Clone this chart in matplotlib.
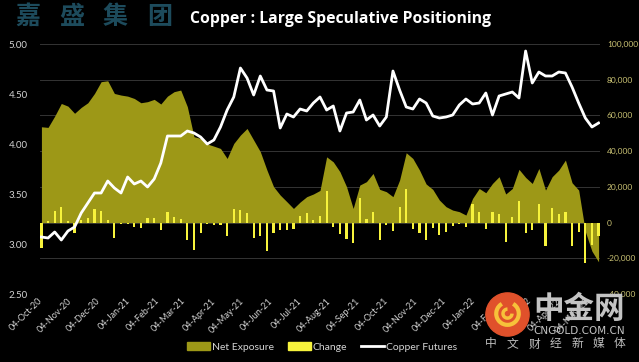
import matplotlib
matplotlib.use('Agg')
import matplotlib.pyplot as plt
import matplotlib.dates as mdates
from matplotlib.ticker import MultipleLocator, FuncFormatter
from matplotlib.patches import Patch, Circle, Arc
from matplotlib.lines import Line2D
import pandas as pd

# weekly positioning data
dates = pd.date_range('2020-10-04', periods=85, freq='7D')

copper = [3.07, 3.06, 3.12, 3.04, 3.13, 3.17, 3.31, 3.41, 3.51, 3.51, 3.63,
          3.56, 3.51, 3.67, 3.60, 3.63, 3.57, 3.65, 3.81, 4.08, 4.08,
          4.08, 4.13, 4.11, 4.07, 4.00, 4.04, 4.17, 4.34, 4.47, 4.76, 4.66,
          4.49, 4.68, 4.54, 4.53, 4.16, 4.30, 4.27, 4.35, 4.33, 4.41, 4.47,
          4.34, 4.38, 4.13, 4.31, 4.32, 4.44, 4.24, 4.29, 4.18, 4.27, 4.73,
          4.54, 4.37, 4.35, 4.45, 4.41, 4.28, 4.26, 4.27, 4.29, 4.39,
          4.45, 4.40, 4.41, 4.51, 4.29, 4.48, 4.50, 4.52, 4.46, 4.93, 4.61,
          4.72, 4.68, 4.68, 4.72, 4.71, 4.57, 4.41, 4.26, 4.17, 4.21]

net_exposure = [53650, 53300, 59600, 66700, 65200, 61200, 64500, 67100, 72300,
                78900, 79400, 72300, 71400, 70800, 69500, 67100, 67700, 69000,
                66400, 70800, 73300,
                74200, 64900, 48100, 47100, 44000, 42800, 41500, 35900, 44300,
                49000, 52700, 46200, 39700, 29400, 20100, 15400, 11700, 7900,
                11500, 14500, 16000, 18000,
                36800, 34000, 28500, 20100, 7900, 21000, 22900, 27500, 18600,
                17300, 14500, 23800, 39100, 35900, 29400, 21600, 18600, 12600,
                8900, 7000, 6100,
                4200, 13500, 19100, 16700, 21900, 25700, 16000, 19100, 29800,
                25300, 21900, 30300, 18200, 25700, 29400, 35000, 22300, 18200,
                -5000, -16000, -22000]

change = [-14000, 1000, 6400, 8900, 1000, -5700, 1400, 2700, 7400, 6400, 1400,
          -8500, -1000, -1000, -2300, -2900, 2300, 2700, -4200, 5700, 2900,
          2000, -9800, -15400, -5700, -1000, -1400, -1400, -7400, 7400, 7000,
          5100, -8500, -7600, -15800, -5700, -4200, -4200, -3600, 3800, 5100,
          1400, 3800,
          17600, -2300, -6400, -9400, -11700, 13900, 2000, 6100, -9800, -1400,
          -4800, 8900, 18800, -3600, -5700, -9800, -2900, -7000, -5100, -1800,
          -700,
          -2700, 10400, 6100, -3800, 5700, 4600, -11100, 2900, 12200, -5700,
          -4200, 10400, -13200, 8300, 4600, 6100, -13200, -5100, -22900,
          -12600, -7600]

olive = '#9d9817'
yellow = '#f7f33c'
label_grey = '#d4d4d4'

fig = plt.figure(figsize=(6.39, 3.62), dpi=100)
fig.patch.set_facecolor('black')

ax = fig.add_axes([40/639, 68/362, 560/639, 250/362])
ax2 = ax.twinx()   # copper price, left scale, drawn on top

ax.set_facecolor('black')
ax.fill_between(dates, net_exposure, 0, color=olive, lw=0, zorder=2)
ax.bar(dates, change, width=2.3, color=yellow, zorder=3)
ax.set_ylim(-40000, 100000)
ax.yaxis.set_major_locator(MultipleLocator(20000))
ax.yaxis.tick_right()
ax.yaxis.set_label_position('right')
ax.yaxis.set_major_formatter(FuncFormatter(lambda v, p: f'{v:,.0f}'))
ax.grid(axis='y', color='#343434', lw=0.7, zorder=0)
ax.set_axisbelow(True)
ax.tick_params(axis='y', length=0, pad=5, labelsize=6, labelcolor='#cbc374')

ax2.plot(dates, copper, color='white', lw=2, zorder=5)
ax2.set_ylim(2.5, 5.0)
ax2.yaxis.set_major_locator(MultipleLocator(0.5))
ax2.yaxis.tick_left()
ax2.yaxis.set_label_position('left')
ax2.yaxis.set_major_formatter(FuncFormatter(lambda v, p: f'{v:.2f}'))
ax2.tick_params(axis='y', length=0, pad=9, labelsize=7, labelcolor=label_grey)

ax.set_xlim(dates[0] - pd.Timedelta(days=1.5), dates[-1] + pd.Timedelta(days=1.5))
ax.xaxis.set_major_locator(mdates.MonthLocator(bymonthday=4))
ax.xaxis.set_major_formatter(mdates.DateFormatter('%d-%b-%y'))
ax.tick_params(axis='x', length=0, pad=4, labelsize=6.5, labelcolor=label_grey)
for lbl in ax.get_xticklabels():
    lbl.set_rotation(45)
    lbl.set_ha('right')
    lbl.set_va('center')
    lbl.set_rotation_mode('anchor')
    lbl.set_family('Lato')

for a in (ax, ax2):
    for s in a.spines.values():
        s.set_visible(False)
for lbl in ax.get_yticklabels() + ax2.get_yticklabels():
    lbl.set_family('Lato')

# header
for k, ch in enumerate('嘉盛集团'):
    fig.text((27.5 + 44*k)/639, 1 - 17/362, ch, ha='center', va='center',
             fontsize=18, fontweight='bold', color='#1d4b5c',
             family=['Noto Sans CJK SC', 'DejaVu Sans'])
fig.text(190/639, 1 - 19/362, 'Copper : Large Speculative Positioning',
         ha='left', va='center', fontsize=11.3, fontweight='bold', color='white',
         family='Open Sans')

# legend
handles = [Patch(color=olive), Patch(color=yellow), Line2D([], [], color='white', lw=2)]
fig.legend(handles, ['Net Exposure', 'Change', 'Copper Futures'], loc='center',
           bbox_to_anchor=(322/639, 1 - 347/362), ncol=3, frameon=False,
           prop={'family': 'Lato', 'size': 7.5}, labelcolor=label_grey,
           handlelength=2.2, handletextpad=0.2, columnspacing=1.3)

# watermark
logo = fig.add_axes([485/639, (362 - 337)/362, 45/639, 45/362])
logo.set_xlim(0, 1)
logo.set_ylim(0, 1)
logo.set_aspect('equal')
logo.axis('off')
logo.add_patch(Circle((0.5, 0.5), 0.48, color='#e0512b'))
logo.add_patch(Arc((0.5, 0.52), 0.5, 0.5, theta1=120, theta2=420, color='#f7c23a', lw=3))
logo.add_patch(Arc((0.5, 0.52), 0.2, 0.2, theta1=90, theta2=360, color='#f7c23a', lw=2.5))

wm = ['Noto Sans CJK SC', 'DejaVu Sans']
fig.text(579/639, 1 - 309/362, '中金网', ha='center', va='center', fontsize=22,
         fontweight='bold', color='#c4c4c4', family=wm, zorder=10)
fig.text(579/639, 1 - 331/362, 'CNGOLD.COM.CN', ha='center', va='center',
         fontsize=7.5, color='#c4c4c4', family='DejaVu Sans', zorder=10)
for k, ch in enumerate('中文财经新媒体'):
    fig.text((491 + 21.5*k)/639, 1 - 344/362, ch, ha='center', va='center',
             fontsize=8.5, color='#bdbdbd', family=wm, zorder=10)

fig.savefig('out.png', dpi=100, facecolor='black')
